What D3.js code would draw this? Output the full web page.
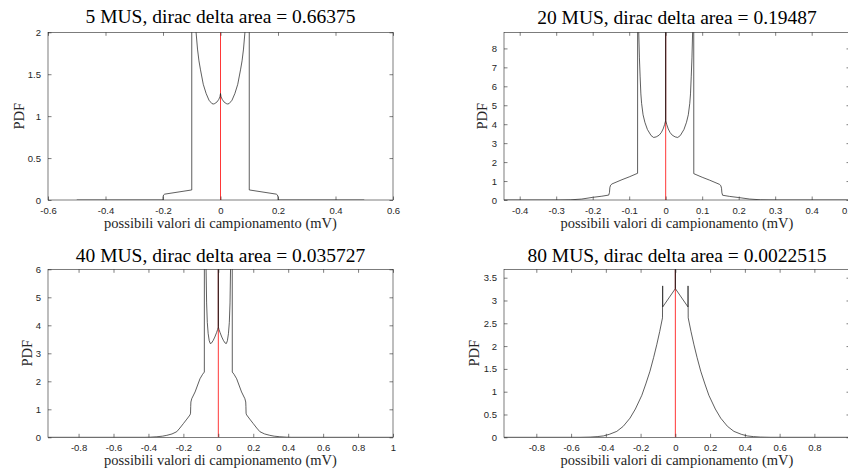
<!DOCTYPE html>
<html>
<head>
<meta charset="utf-8">
<script src="https://cdn.jsdelivr.net/npm/d3@7"></script>
<style>
body { margin: 0; background: #fff; }
</style>
</head>
<body>
<div id="myChart"></div>
<script>
//Titles of the four panels
var titles = [
    "5 MUS, dirac delta area = 0.66375",
    "20 MUS, dirac delta area = 0.19487",
    "40 MUS, dirac delta area = 0.035727",
    "80 MUS, dirac delta area = 0.0022515"
];
var xLabel = "possibili valori di campionamento (mV)";
var yLabel = "PDF";

//PDF curves, [value (mV), pdf]
var mus5 = [[-0.5,0],[-0.2,0],[-0.2,0.035],[-0.198,0.06],[-0.194,0.07],[-0.1,0.12],[-0.1,8],[-0.095,3.2],[-0.09,2.4],[-0.085,2.0],[-0.08,1.8],[-0.075,1.66],[-0.07,1.56],[-0.06,1.38],[-0.05,1.27],[-0.04,1.19],[-0.03,1.15],[-0.025,1.145],[-0.02,1.15],[-0.012,1.17],[-0.006,1.2],[-0.002,1.23],[0,1.27],
    [0.002,1.23],[0.006,1.2],[0.012,1.17],[0.02,1.15],[0.025,1.145],[0.03,1.15],[0.04,1.19],[0.05,1.27],[0.06,1.38],[0.07,1.56],[0.075,1.66],[0.08,1.8],[0.085,2.0],[0.09,2.4],[0.095,3.2],[0.1,8],[0.1,0.12],[0.194,0.07],[0.198,0.06],[0.2,0.035],[0.2,0],[0.5,0]];

var mus20 = [[-0.443,0],[-0.3,0],[-0.26,0.01],[-0.23,0.05],[-0.2,0.14],[-0.175,0.2],[-0.156,0.26],[-0.154,0.4],[-0.153,0.65],[-0.151,0.78],[-0.147,0.85],[-0.12,1.07],[-0.1,1.22],[-0.077,1.41],[-0.0768,12],[-0.074,9],[-0.072,7.5],[-0.07,6.5],[-0.068,5.6],[-0.066,5.1],[-0.062,4.5],[-0.057,4.1],[-0.05,3.72],[-0.04,3.4],[-0.033,3.3],[-0.026,3.33],[-0.018,3.42],[-0.012,3.56],[-0.007,3.75],[-0.003,3.98],[0,4.2],[0,12],[0,4.2],
    [0.003,3.98],[0.007,3.75],[0.012,3.56],[0.018,3.42],[0.026,3.33],[0.033,3.3],[0.04,3.4],[0.05,3.72],[0.057,4.1],[0.062,4.5],[0.066,5.1],[0.068,5.6],[0.07,6.5],[0.072,7.5],[0.074,9],[0.0768,12],[0.077,1.39],[0.1,1.2],[0.12,1.05],[0.147,0.83],[0.151,0.76],[0.153,0.62],[0.154,0.38],[0.156,0.25],[0.175,0.19],[0.2,0.13],[0.23,0.05],[0.26,0.01],[0.3,0],[0.505,0]];

var mus40 = [[-0.975,0],[-0.42,0],[-0.39,0.005],[-0.352,0.02],[-0.32,0.04],[-0.295,0.07],[-0.265,0.12],[-0.238,0.2],[-0.22,0.33],[-0.2,0.49],[-0.18,0.65],[-0.162,0.8],[-0.159,0.86],[-0.158,1.1],[-0.157,1.26],[-0.152,1.38],[-0.133,1.62],[-0.105,2.09],[-0.09,2.25],[-0.08,2.33],[-0.0795,14],[-0.076,9],[-0.073,7],[-0.07,6],[-0.067,4.8],[-0.063,4.1],[-0.058,3.7],[-0.052,3.45],[-0.046,3.35],[-0.04,3.36],[-0.03,3.45],[-0.02,3.58],[-0.01,3.74],[-0.004,3.85],[0,3.95],[0,14],[0,3.95],
    [0.004,3.85],[0.01,3.74],[0.02,3.58],[0.03,3.45],[0.04,3.36],[0.046,3.35],[0.052,3.45],[0.058,3.7],[0.063,4.1],[0.067,4.8],[0.07,6],[0.073,7],[0.076,9],[0.0795,14],[0.08,2.33],[0.09,2.25],[0.105,2.09],[0.133,1.62],[0.152,1.38],[0.157,1.26],[0.158,1.1],[0.159,0.86],[0.162,0.8],[0.18,0.65],[0.2,0.49],[0.22,0.33],[0.238,0.2],[0.265,0.12],[0.295,0.07],[0.32,0.04],[0.352,0.02],[0.39,0.005],[0.42,0],[1.0,0]];

var mus80 = [[-0.986,0],[-0.55,0],[-0.49,0.005],[-0.45,0.015],[-0.414,0.03],[-0.38,0.065],[-0.337,0.13],[-0.3,0.24],[-0.261,0.42],[-0.23,0.62],[-0.193,0.92],[-0.17,1.17],[-0.146,1.45],[-0.125,1.75],[-0.107,2.03],[-0.09,2.32],[-0.074,2.62],[-0.073,3.32],[-0.0725,2.86],[0,3.26],[0,6],[0,3.26],
    [0.0725,2.86],[0.073,3.32],[0.074,2.62],[0.09,2.32],[0.107,2.03],[0.125,1.75],[0.146,1.45],[0.17,1.17],[0.193,0.92],[0.23,0.62],[0.261,0.42],[0.3,0.24],[0.337,0.13],[0.38,0.065],[0.414,0.03],[0.45,0.015],[0.49,0.005],[0.55,0],[1.005,0]];

//Position of the dirac delta (red stem)
var diracX = [0, 0, 0, 0];

//Tick labels
var xTicks5 = [-0.6, -0.4, -0.2, 0, 0.2, 0.4, 0.6];
var yTicks5 = [0, 0.5, 1, 1.5, 2];
var xTicks20 = [-0.4, -0.3, -0.2, -0.1, 0, 0.1, 0.2, 0.3, 0.4, 0.5];
var yTicks20 = [0, 1, 2, 3, 4, 5, 6, 7, 8];
var xTicks40 = [-0.8, -0.6, -0.4, -0.2, 0, 0.2, 0.4, 0.6, 0.8, 1];
var yTicks40 = [0, 1, 2, 3, 4, 5, 6];
var xTicks80 = [-0.8, -0.6, -0.4, -0.2, 0, 0.2, 0.4, 0.6, 0.8];
var yTicks80 = [0, 0.5, 1, 1.5, 2, 2.5, 3, 3.5];

//Panel layout (pixels) and axis limits
var panels = [
    { data: mus5, ticksX: xTicks5, ticksY: yTicks5, xlim: [-0.6, 0.6], ylim: [0, 2],
      left: 48, right: 393, top: 32.3, bottom: 200, titleY: 23.3, xLabelY: 227.5, yLabelX: 18.5 },
    { data: mus20, ticksX: xTicks20, ticksY: yTicks20, xlim: [-0.443, 0.505], ylim: [0, 8.85],
      left: 504, right: 850, top: 32.3, bottom: 200, titleY: 24, xLabelY: 227.5, yLabelX: 482.3 },
    { data: mus40, ticksX: xTicks40, ticksY: yTicks40, xlim: [-0.975, 1], ylim: [0, 6],
      left: 48, right: 393, top: 269.3, bottom: 437.3, titleY: 261.7, xLabelY: 465, yLabelX: 26.7 },
    { data: mus80, ticksX: xTicks80, ticksY: yTicks80, xlim: [-0.986, 1.005], ylim: [0, 3.684],
      left: 504, right: 850, top: 269.3, bottom: 437.3, titleY: 261.7, xLabelY: 465, yLabelX: 474 }
];

var svg = d3.select("#myChart")
    .append("svg")
    .attr("width", 848)
    .attr("height", 471)
    .style("display", "block");

panels.forEach(function (p, i) {
    var x = d3.scaleLinear().domain(p.xlim).range([p.left, p.right]);
    var y = d3.scaleLinear().domain(p.ylim).range([p.bottom, p.top]);

    //Clip the curves to the axes box
    svg.append("clipPath")
        .attr("id", "clip" + i)
        .append("rect")
        .attr("x", p.left)
        .attr("y", p.top)
        .attr("width", p.right - p.left)
        .attr("height", p.bottom - p.top);

    var g = svg.append("g").attr("clip-path", "url(#clip" + i + ")");

    //Red dirac stem
    g.append("line")
        .attr("x1", x(diracX[i]))
        .attr("x2", x(diracX[i]))
        .attr("y1", y(0))
        .attr("y2", y(p.ylim[1]))
        .attr("stroke", "#ff2020")
        .attr("stroke-width", 0.9);

    //PDF curve
    var line = d3.line()
        .x(function (d) { return x(d[0]); })
        .y(function (d) { return y(d[1]); });

    g.append("path")
        .datum(p.data)
        .attr("fill", "none")
        .attr("stroke", "#1a1a1a")
        .attr("stroke-width", 0.7)
        .attr("d", line);

    //Axes with inward ticks on all four sides
    var bottomAxis = svg.append("g")
        .attr("transform", "translate(0," + p.bottom + ")")
        .call(d3.axisBottom(x).tickValues(p.ticksX).tickFormat(function (d) { return String(d); })
            .tickSizeInner(-3.5).tickSizeOuter(0).tickPadding(7));
    var topAxis = svg.append("g")
        .attr("transform", "translate(0," + p.top + ")")
        .call(d3.axisTop(x).tickValues(p.ticksX).tickFormat("")
            .tickSizeInner(-3.5).tickSizeOuter(0));
    var leftAxis = svg.append("g")
        .attr("transform", "translate(" + p.left + ",0)")
        .call(d3.axisLeft(y).tickValues(p.ticksY).tickFormat(function (d) { return String(d); })
            .tickSizeInner(-3.5).tickSizeOuter(0).tickPadding(7));
    var rightAxis = svg.append("g")
        .attr("transform", "translate(" + p.right + ",0)")
        .call(d3.axisRight(y).tickValues(p.ticksY).tickFormat("")
            .tickSizeInner(-3.5).tickSizeOuter(0));

    [bottomAxis, topAxis, leftAxis, rightAxis].forEach(function (a) {
        a.select(".domain").remove();
        a.selectAll("line").attr("stroke", "#262626").attr("stroke-width", 0.6);
        a.selectAll("text")
            .attr("fill", "#262626")
            .style("font-family", "'Liberation Sans', Arial, sans-serif")
            .style("font-size", "9.5px");
    });

    //Box
    svg.append("rect")
        .attr("x", p.left)
        .attr("y", p.top)
        .attr("width", p.right - p.left)
        .attr("height", p.bottom - p.top)
        .attr("fill", "none")
        .attr("stroke", "#262626")
        .attr("stroke-width", 0.6);

    //Title
    svg.append("text")
        .attr("x", (p.left + p.right) / 2)
        .attr("y", p.titleY)
        .attr("text-anchor", "middle")
        .style("font-family", "'Liberation Serif', 'Times New Roman', serif")
        .style("font-size", "19.5px")
        .attr("fill", "#000")
        .text(titles[i]);

    //X label
    svg.append("text")
        .attr("x", (p.left + p.right) / 2)
        .attr("y", p.xLabelY)
        .attr("text-anchor", "middle")
        .style("font-family", "'Liberation Serif', 'Times New Roman', serif")
        .style("font-size", "14.5px")
        .attr("fill", "#262626")
        .text(xLabel);

    //Y label
    svg.append("text")
        .attr("transform", "translate(" + p.yLabelX + "," + ((p.top + p.bottom) / 2) + ") rotate(-90)")
        .attr("dy", "0.35em")
        .attr("text-anchor", "middle")
        .style("font-family", "'Liberation Serif', 'Times New Roman', serif")
        .style("font-size", "14.5px")
        .attr("fill", "#262626")
        .text(yLabel);
});
</script>
</body>
</html>
